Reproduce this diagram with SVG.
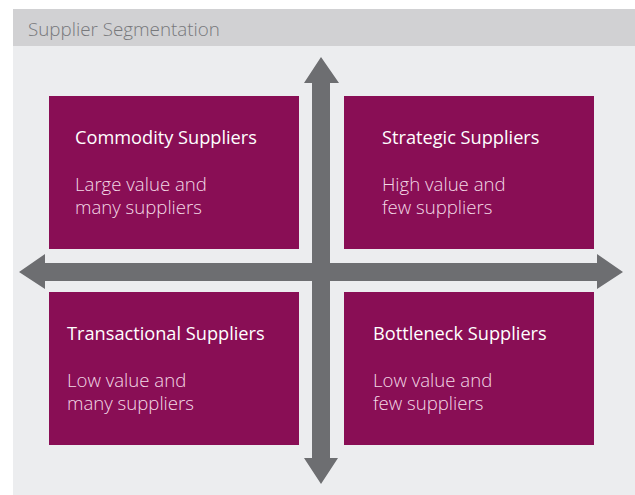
<svg xmlns="http://www.w3.org/2000/svg" width="635" height="495" viewBox="0 0 635 495">
<style>
.box{fill:#890e55}
.ttl{font-family:"Open Sans","Liberation Sans",sans-serif;font-size:18.2px;fill:#ffffff}
.dsc{font-family:"Open Sans","Liberation Sans",sans-serif;font-size:18.6px;font-weight:300;fill:#f3d9e6}
.arr{fill:#6d6e71}
</style>
<rect x="0" y="0" width="635" height="495" fill="#ffffff"/>
<rect x="13" y="46" width="622" height="449" fill="#ecedef"/>
<rect x="13" y="9" width="622" height="37" fill="#d1d1d3"/>
<text x="28" y="36" font-family="Open Sans, Liberation Sans, sans-serif" font-size="18.8" font-weight="300" fill="#77787b">Supplier Segmentation</text>
<g id="connectors">
<polygon class="arr" points="312,83 304,83 321,57 339,83 330,83 330,458 338,458 321,484 304,458 312,458"/>
<polygon class="arr" points="45,263 45,254 19,272 45,289 45,281 597,281 597,289 623,272 597,254 597,263"/>
</g>
<g id="commodity">
<rect class="box" x="49" y="96" width="250" height="153"/>
<text class="ttl" x="75" y="144">Commodity Suppliers</text>
<text class="dsc" x="75" y="191">Large value and</text>
<text class="dsc" x="75" y="214">many suppliers</text>
</g>
<g id="strategic">
<rect class="box" x="344" y="96" width="250" height="153"/>
<text class="ttl" x="382" y="144">Strategic Suppliers</text>
<text class="dsc" x="382" y="191">High value and</text>
<text class="dsc" x="382" y="214">few suppliers</text>
</g>
<g id="transactional">
<rect class="box" x="49" y="292" width="250" height="153"/>
<text class="ttl" x="67" y="340">Transactional Suppliers</text>
<text class="dsc" x="67" y="387">Low value and</text>
<text class="dsc" x="67" y="410">many suppliers</text>
</g>
<g id="bottleneck">
<rect class="box" x="344" y="292" width="250" height="153"/>
<text class="ttl" x="373" y="340">Bottleneck Suppliers</text>
<text class="dsc" x="373" y="387">Low value and</text>
<text class="dsc" x="373" y="410">few suppliers</text>
</g>
</svg>
